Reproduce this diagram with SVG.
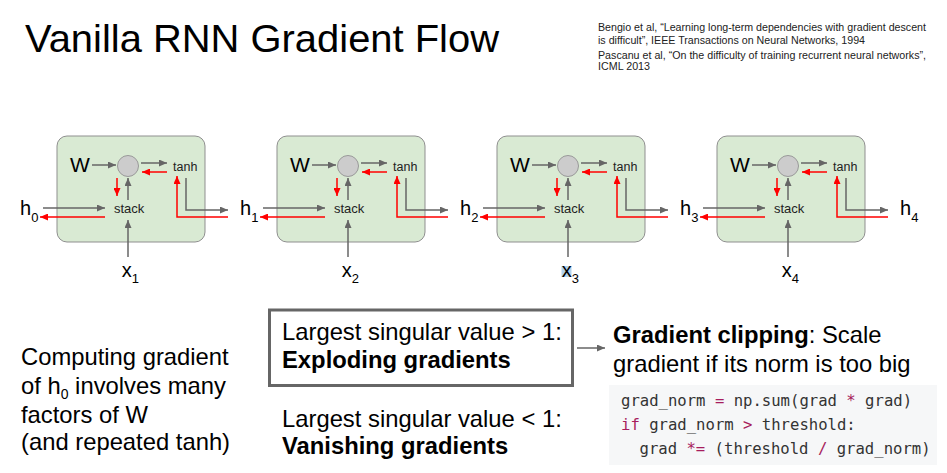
<svg xmlns="http://www.w3.org/2000/svg" width="947" height="473" viewBox="0 0 947 473">
<style>
text{font-family:"Liberation Sans",Arial,sans-serif;fill:#000}
.title{font-size:39px}
.ref{font-size:10px;fill:#222}
.box{fill:#d9ead3;stroke:#8f8f8f;stroke-width:1}
.dot{fill:#cccccc;stroke:#999;stroke-width:1}
.w{font-size:21px}
.small{font-size:12.5px;fill:#222}
.lbl{font-size:20px}
.sub{font-size:13px}
.g{fill:none;stroke:#666;stroke-width:1.5;marker-end:url(#ag)}
.r{fill:none;stroke:#f00;stroke-width:1.5;marker-end:url(#ar)}
.big{font-size:23.8px}
.b{font-weight:bold}
.code{font-family:"DejaVu Sans Mono","Liberation Mono",monospace;font-size:15.6px;fill:#333}
.op{fill:#a71d5d}
</style>
<defs>
<marker id="ag" viewBox="0 0 10 10" refX="10" refY="5" markerWidth="8" markerHeight="7" markerUnits="userSpaceOnUse" orient="auto" preserveAspectRatio="none"><path d="M0,0 L10,5 L0,10 z" fill="#666"/></marker>
<marker id="ar" viewBox="0 0 10 10" refX="10" refY="5" markerWidth="8" markerHeight="7" markerUnits="userSpaceOnUse" orient="auto" preserveAspectRatio="none"><path d="M0,0 L10,5 L0,10 z" fill="#f00"/></marker>
<g id="cell">
<rect class="box" x="57" y="136" width="148" height="106" rx="10"/>
<circle class="dot" cx="128" cy="166" r="10.5"/>
<text class="w" x="70" y="172">W</text>
<text class="small" x="173" y="171">tanh</text>
<text class="small" x="114" y="213" style="font-size:13px">stack</text>
</g>
<g id="arrows">
<path class="g" d="M92,165 H116"/>
<path class="g" d="M141,163 H167"/>
<path class="r" d="M167,172 H142"/>
<path class="r" d="M117,178 V196"/>
<path class="g" d="M128,200 V178"/>
<path class="g" d="M43,208 H105"/>
<path class="r" d="M105,217 H40"/>
<path class="g" d="M128,257 V220"/>
<path class="g" d="M186,178 V210 H228"/>
<path class="r" d="M228,217 H177 V176"/>
</g>
</defs>

<g id="title"><text class="title" x="25" y="52" textLength="474" lengthAdjust="spacingAndGlyphs">Vanilla RNN Gradient Flow</text></g>

<g id="references">
<text class="ref" x="598" y="30.5" textLength="328" lengthAdjust="spacingAndGlyphs">Bengio et al, “Learning long-term dependencies with gradient descent</text>
<text class="ref" x="598" y="44" textLength="267" lengthAdjust="spacingAndGlyphs">is difficult”, IEEE Transactions on Neural Networks, 1994</text>
<text class="ref" x="598" y="58.5" textLength="328" lengthAdjust="spacingAndGlyphs">Pascanu et al, “On the difficulty of training recurrent neural networks”,</text>
<text class="ref" x="598" y="69.5" textLength="52" lengthAdjust="spacingAndGlyphs">ICML 2013</text>
</g>

<g id="cell1"><use href="#cell"/></g>
<g id="cell2" transform="translate(220,0)"><use href="#cell"/></g>
<g id="cell3" transform="translate(440,0)"><use href="#cell"/></g>
<g id="cell4" transform="translate(660,0)"><use href="#cell"/></g>

<g id="connectors">
<use href="#arrows"/>
<use href="#arrows" transform="translate(220,0)"/>
<use href="#arrows" transform="translate(440,0)"/>
<use href="#arrows" transform="translate(660,0)"/>
<path class="g" d="M577,348 H605"/>
</g>

<g id="h0"><text class="lbl" x="20" y="215">h<tspan class="sub" dy="6.5">0</tspan></text></g>
<g id="h1"><text class="lbl" x="240" y="215">h<tspan class="sub" dy="6.5">1</tspan></text></g>
<g id="h2"><text class="lbl" x="460" y="215">h<tspan class="sub" dy="6.5">2</tspan></text></g>
<g id="h3"><text class="lbl" x="680" y="215">h<tspan class="sub" dy="6.5">3</tspan></text></g>
<g id="h4"><text class="lbl" x="900" y="215">h<tspan class="sub" dy="6.5">4</tspan></text></g>

<g id="x1"><text class="lbl" x="121.7" y="277">x<tspan class="sub" dy="6">1</tspan></text></g>
<g id="x2"><text class="lbl" x="341.7" y="277">x<tspan class="sub" dy="6">2</tspan></text></g>
<g id="x3"><rect x="561.5" y="266" width="10" height="11" fill="#b3d3ee"/><text class="lbl" x="561.7" y="277">x<tspan class="sub" dy="6">3</tspan></text></g>
<g id="x4"><text class="lbl" x="781.7" y="277">x<tspan class="sub" dy="6">4</tspan></text></g>

<g id="note">
<text class="big" x="21" y="365">Computing gradient</text>
<text class="big" x="21" y="394">of h<tspan style="font-size:14px" dy="5">0</tspan><tspan dy="-5"> involves many</tspan></text>
<text class="big" x="21" y="423">factors of W</text>
<text class="big" x="21" y="450">(and repeated tanh)</text>
</g>

<g id="exploding">
<rect x="269.5" y="310" width="303" height="75.5" fill="#fff" stroke="#666" stroke-width="3"/>
<text class="big" x="282" y="340">Largest singular value &gt; 1:</text>
<text class="big b" x="282" y="368">Exploding gradients</text>
</g>

<g id="vanishing">
<text class="big" x="282" y="427">Largest singular value &lt; 1:</text>
<text class="big b" x="282" y="454">Vanishing gradients</text>
</g>

<g id="clipping">
<text class="big" x="613" y="343"><tspan class="b">Gradient clipping</tspan>: Scale</text>
<text class="big" x="613" y="372">gradient if its norm is too big</text>
</g>

<g id="code">
<rect x="609" y="385" width="328" height="80" fill="#f6f7f8"/>
<text class="code" x="621" y="406">grad_norm <tspan class="op">=</tspan> np.sum(grad <tspan class="op">*</tspan> grad)</text>
<text class="code" x="621" y="430"><tspan class="op">if</tspan> grad_norm <tspan class="op">&gt;</tspan> threshold:</text>
<text class="code" x="639.5" y="454">grad <tspan class="op">*=</tspan> (threshold <tspan class="op">/</tspan> grad_norm)</text>
</g>
</svg>
